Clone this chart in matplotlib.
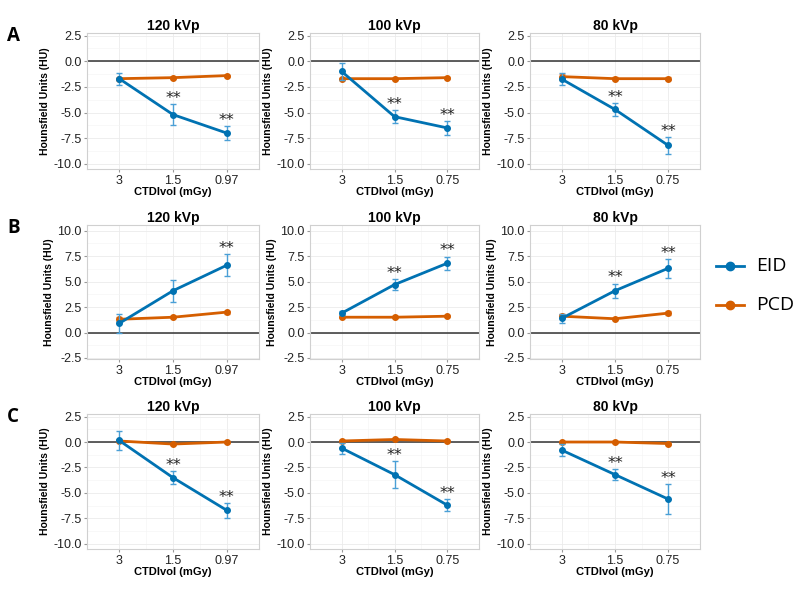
import numpy as np
import matplotlib.pyplot as plt
from matplotlib.lines import Line2D

plt.rcParams['font.family'] = ['Liberation Sans', 'DejaVu Sans']

# kVp per column and dose tick labels
kvp_titles = ['120 kVp', '100 kVp', '80 kVp']
dose_labels = [['3', '1.5', '0.97'], ['3', '1.5', '0.75'], ['3', '1.5', '0.75']]
row_letters = ['A', 'B', 'C']
series_names = ['EID', 'PCD']

# EID means / errors, rows A, B, C; columns 120, 100, 80 kVp
eid_mean = {
    'A': [[-1.7, -5.2, -7.0], [-1.0, -5.4, -6.5], [-1.75, -4.7, -8.2]],
    'B': [[0.9, 4.1, 6.6], [1.9, 4.7, 6.8], [1.4, 4.1, 6.3]],
    'C': [[0.15, -3.5, -6.7], [-0.6, -3.2, -6.2], [-0.8, -3.2, -5.6]],
}
eid_err = {
    'A': [[0.6, 1.0, 0.7], [0.8, 0.6, 0.7], [0.6, 0.65, 0.8]],
    'B': [[0.9, 1.1, 1.1], [0.2, 0.55, 0.65], [0.45, 0.7, 0.95]],
    'C': [[0.9, 0.65, 0.75], [0.55, 1.3, 0.6], [0.6, 0.55, 1.5]],
}
pcd_mean = {
    'A': [[-1.7, -1.6, -1.4], [-1.7, -1.7, -1.6], [-1.5, -1.7, -1.7]],
    'B': [[1.3, 1.5, 2.0], [1.5, 1.5, 1.6], [1.6, 1.35, 1.9]],
    'C': [[0.1, -0.2, 0.0], [0.1, 0.25, 0.1], [0.0, 0.0, -0.15]],
}
pcd_err = {
    'A': [[0.1, 0.1, 0.1], [0.1, 0.1, 0.1], [0.3, 0.15, 0.15]],
    'B': [[0.2, 0.1, 0.15], [0.1, 0.1, 0.1], [0.2, 0.1, 0.2]],
    'C': [[0.1, 0.1, 0.1], [0.1, 0.1, 0.1], [0.1, 0.1, 0.1]],
}
# significance (**) flags per point
sig = {
    'A': [[0, 1, 1], [0, 1, 1], [0, 1, 1]],
    'B': [[0, 0, 1], [0, 1, 1], [0, 1, 1]],
    'C': [[0, 1, 1], [0, 1, 1], [0, 1, 1]],
}

EID_C = '#0072B2'
EID_EB = '#4a9fd6'
PCD_C = '#D55E00'
PCD_EB = '#e8935a'

# axes boxes in pixels (left, right) and (top, bottom)
col_px = [(87, 259), (310, 479), (530, 700)]
row_px = [(33, 169), (225, 359), (414, 549)]
W, H = 800, 589


def draw_panel(ax, row, col):
    x = np.arange(1, 4)
    ax.axhline(0, color='#333333', lw=1.1, zorder=1)
    ax.errorbar(x, pcd_mean[row][col], yerr=pcd_err[row][col], fmt='none',
                ecolor=PCD_EB, elinewidth=1, capsize=2.5, zorder=2)
    ax.plot(x, pcd_mean[row][col], '-o', color=PCD_C, lw=2, ms=4, zorder=3)
    ax.errorbar(x, eid_mean[row][col], yerr=eid_err[row][col], fmt='none',
                ecolor=EID_EB, elinewidth=1, capsize=2.5, zorder=4)
    ax.plot(x, eid_mean[row][col], '-o', color=EID_C, lw=2, ms=4, zorder=5)
    for i in range(3):
        if sig[row][col][i]:
            top = eid_mean[row][col][i] + eid_err[row][col][i]
            ax.text(x[i], top + 0.55, '**', ha='center', va='center',
                    fontsize=11.5, color='#222222', family='DejaVu Sans')

    ax.set_xlim(0.4, 3.6)
    if row == 'B':
        ax.set_ylim(-2.6, 10.55)
        ax.set_yticks([-2.5, 0, 2.5, 5, 7.5, 10])
        ax.set_yticks([-1.25, 1.25, 3.75, 6.25, 8.75], minor=True)
    else:
        ax.set_ylim(-10.5, 2.75)
        ax.set_yticks([-10, -7.5, -5, -2.5, 0, 2.5])
        ax.set_yticks([-8.75, -6.25, -3.75, -1.25, 1.25], minor=True)
    ax.set_xticks(x)
    ax.set_xticklabels(dose_labels[col])
    ax.set_yticklabels(['%.1f' % v for v in ax.get_yticks()])
    ax.set_xticks([1.5, 2.5], minor=True)
    ax.grid(which='major', color='#ebebeb', lw=0.6)
    ax.grid(which='minor', color='#f4f4f4', lw=0.4)
    ax.set_axisbelow(True)
    for s in ax.spines.values():
        s.set_color('#d0d0d0')
        s.set_linewidth(0.8)
    ax.tick_params(which='major', length=2.5, color='#999999', labelsize=9,
                   labelcolor='#222222', pad=1.5)
    ax.tick_params(which='minor', length=0)
    ax.set_title(kvp_titles[col], fontsize=10, fontweight='bold', pad=2)
    ax.set_xlabel('CTDIvol (mGy)', fontsize=8, fontweight='bold', labelpad=0)
    ax.set_ylabel('Hounsfield Units (HU)', fontsize=7.5, fontweight='bold', labelpad=2)


def main():
    fig = plt.figure(figsize=(W / 100, H / 100), dpi=100)
    for r, row in enumerate(row_letters):
        top, bot = row_px[r]
        for c in range(3):
            l, rr = col_px[c]
            ax = fig.add_axes([l / W, 1 - bot / H, (rr - l) / W, (bot - top) / H])
            draw_panel(ax, row, c)
        fig.text(7 / W, 1 - (top + 3) / H, row, fontsize=13.5, fontweight='bold',
                 family=['Open Sans', 'DejaVu Sans'], va='center', ha='left')

    # legend drawn by hand on the figure
    for name, color, ypx in zip(series_names, [EID_C, PCD_C], [266, 305]):
        yf = 1 - ypx / H
        fig.add_artist(Line2D([716 / W, 744 / W], [yf, yf], color=color, lw=2,
                              transform=fig.transFigure))
        fig.add_artist(Line2D([730 / W], [yf], color=color, marker='o', ms=6,
                              transform=fig.transFigure))
        fig.text(756 / W, yf, name, fontsize=14, va='center', ha='left',
                 family=['Open Sans', 'DejaVu Sans'])
    fig.savefig('out.png', dpi=100)


if __name__ == '__main__':
    main()
